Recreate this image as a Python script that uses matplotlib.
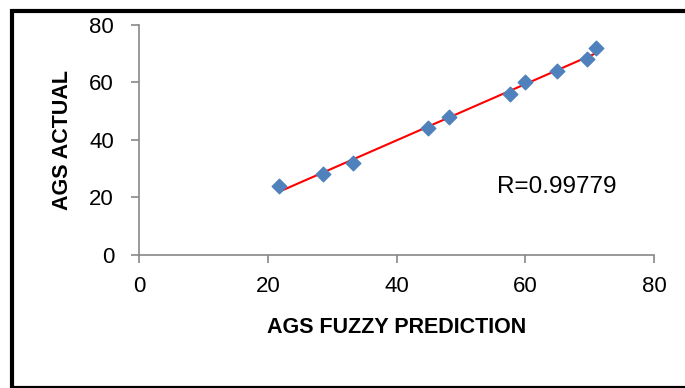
import numpy as np
import matplotlib
matplotlib.use('Agg')
import matplotlib.pyplot as plt
from matplotlib.patches import Rectangle

# fuzzy prediction vs actual AGS
fuzzy = [21.8, 28.6, 33.3, 44.9, 48.1, 57.6, 60.0, 64.9, 69.6, 71.0]
actual = [24, 28, 32, 44, 48, 56, 60, 64, 68, 72]
xticks = [0, 20, 40, 60, 80]
yticks = [0, 20, 40, 60, 80]
r_label = 'R=0.99779'

plt.rcParams['font.family'] = ['Liberation Sans', 'DejaVu Sans']

fig = plt.figure(figsize=(6.85, 3.88), dpi=100)
ax = fig.add_axes([0.203, 0.343, 0.752, 0.593])

ax.scatter(fuzzy, actual, marker='D', s=55, color='#4F81BD', zorder=3)
k, b = np.polyfit(fuzzy, actual, 1)
xs = np.array([min(fuzzy), max(fuzzy)])
ax.plot(xs, k * xs + b, color='red', lw=1.5, zorder=2)

ax.set_xlim(0, 80)
ax.set_ylim(0, 80)
ax.set_xticks(xticks)
ax.set_yticks(yticks)
for s in ['top', 'right']:
    ax.spines[s].set_visible(False)
for s in ['left', 'bottom']:
    ax.spines[s].set_color('#888888')
    ax.spines[s].set_linewidth(1.2)
ax.tick_params(colors='#888888', length=6, width=1.2, labelcolor='black', labelsize=16)
ax.tick_params(axis='x', pad=9)
ax.tick_params(axis='y', pad=12)

ax.set_xlabel('AGS FUZZY PREDICTION', fontsize=15.5, fontweight='bold', va='center')
ax.set_ylabel('AGS ACTUAL', fontsize=15.5, fontweight='bold', va='center')
ax.xaxis.set_label_coords(0.5, -0.317)
ax.yaxis.set_label_coords(-0.148, 0.5)
ax.text(55.6, 23.5, r_label, fontsize=17.5, va='center', ha='left')

fig.patches.append(Rectangle((12 / 685, 0.0), 1.0, 1 - 11 / 388, transform=fig.transFigure,
                             fill=False, edgecolor='black', lw=3, clip_on=False))

fig.savefig('out.png', dpi=100)
